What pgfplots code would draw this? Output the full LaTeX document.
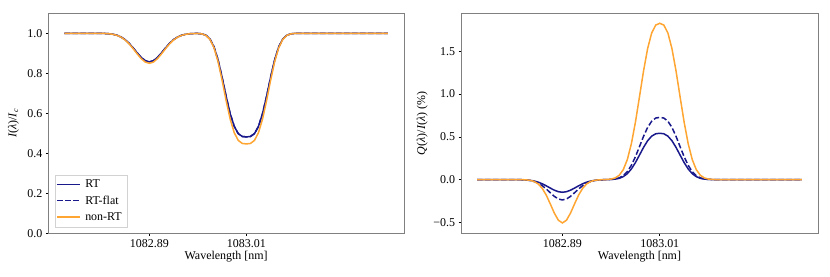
\documentclass[border=0pt]{standalone}
\usepackage{pgfplots}
\usepackage{pgfplotstable}
\pgfplotsset{compat=1.18}
\usepackage{fontspec}
\setmainfont{Liberation Serif}
\definecolor{rtblue}{RGB}{25,25,140}
\definecolor{nrtorange}{RGB}{255,165,50}
\definecolor{framegray}{RGB}{128,128,128}

% x = (lambda - 1082.89 nm) in pm
\pgfplotstableread{
x rt rtflat nrt
-105 1.0 1.0 1.0
-70 0.99996 0.99996 0.99996
-65 0.99988 0.99988 0.99987
-60 0.99965 0.99965 0.99963
-55 0.99909 0.99909 0.99904
-50 0.99780 0.99780 0.99770
-45 0.99515 0.99515 0.99491
-40 0.99013 0.99013 0.98964
-35 0.98153 0.98153 0.98062
-30 0.96821 0.96821 0.96665
-25 0.94967 0.94967 0.94720
-20 0.92670 0.92670 0.92311
-15 0.90180 0.90180 0.89699
-10 0.87901 0.87901 0.87308
-5 0.86285 0.86285 0.85614
0 0.85700 0.85700 0.85000
5 0.86285 0.86285 0.85614
10 0.87901 0.87901 0.87308
15 0.90180 0.90180 0.89699
20 0.92670 0.92670 0.92311
25 0.94967 0.94967 0.94720
30 0.96821 0.96821 0.96665
35 0.98153 0.98153 0.98062
40 0.99013 0.99013 0.98964
45 0.99515 0.99515 0.99491
50 0.99780 0.99780 0.99770
55 0.99900 0.99900 0.99895
60 0.99910 0.99910 0.99904
65 0.99722 0.99722 0.99703
70 0.99014 0.99014 0.98947
75 0.97115 0.97115 0.96920
80 0.93185 0.93185 0.92724
85 0.86688 0.86688 0.85789
90 0.77985 0.77985 0.76497
95 0.68430 0.68430 0.66297
100 0.59800 0.59800 0.57084
105 0.53455 0.53455 0.50310
110 0.49816 0.49816 0.46425
115 0.48405 0.48405 0.44918
120 0.48200 0.48200 0.44700
125 0.48405 0.48405 0.44918
130 0.49816 0.49816 0.46425
135 0.53455 0.53455 0.50310
140 0.59800 0.59800 0.57084
145 0.68430 0.68430 0.66297
150 0.77985 0.77985 0.76497
155 0.86688 0.86688 0.85789
160 0.93185 0.93185 0.92724
165 0.97115 0.97115 0.96920
170 0.99014 0.99014 0.98947
175 0.99734 0.99734 0.99716
180 0.99945 0.99945 0.99941
185 0.99991 0.99991 0.99991
190 0.99999 0.99999 0.99999
295 1.0 1.0 1.0
}\intens

\pgfplotstableread{
x rt rtflat nrt
-105 0 0 0
-70 -0.00002 -0.00001 0
-65 -0.00008 -0.00006 -0.00001
-60 -0.00023 -0.00021 -0.00005
-55 -0.00065 -0.00065 -0.00020
-50 -0.00167 -0.00180 -0.00079
-45 -0.00392 -0.00456 -0.00269
-40 -0.00840 -0.01046 -0.00807
-35 -0.01646 -0.02175 -0.02130
-30 -0.02948 -0.04104 -0.04938
-25 -0.04826 -0.07021 -0.10059
-20 -0.07225 -0.10896 -0.18007
-15 -0.09887 -0.15337 -0.28322
-10 -0.12371 -0.19577 -0.39139
-5 -0.14151 -0.22666 -0.47524
0 -0.14800 -0.23800 -0.50700
5 -0.14151 -0.22666 -0.47524
10 -0.12371 -0.19577 -0.39139
15 -0.09887 -0.15337 -0.28322
20 -0.07225 -0.10896 -0.18007
25 -0.04826 -0.07021 -0.10059
30 -0.02948 -0.04104 -0.04938
35 -0.01646 -0.02175 -0.02130
40 -0.00840 -0.01046 -0.00807
45 -0.00389 -0.00452 -0.00259
50 -0.00154 -0.00162 -0.00034
55 -0.00011 0.00008 0.00162
60 0.00166 0.00233 0.00633
65 0.00564 0.00763 0.01930
70 0.01502 0.02017 0.05064
75 0.03446 0.04628 0.11621
80 0.06958 0.09345 0.23468
85 0.12460 0.16736 0.42024
90 0.19939 0.26782 0.67248
95 0.28753 0.38620 0.96977
100 0.37706 0.50644 1.27176
105 0.45418 0.61004 1.53181
110 0.50832 0.68277 1.71443
115 0.53589 0.71979 1.80738
120 0.54200 0.72800 1.82800
125 0.53589 0.71979 1.80738
130 0.50832 0.68277 1.71443
135 0.45418 0.61004 1.53181
140 0.37706 0.50644 1.27176
145 0.28753 0.38620 0.96977
150 0.19939 0.26782 0.67248
155 0.12460 0.16736 0.42024
160 0.06958 0.09345 0.23468
165 0.03446 0.04628 0.11621
170 0.01502 0.02017 0.05064
175 0.00572 0.00769 0.01930
180 0.00189 0.00254 0.00638
185 0.00054 0.00073 0.00182
190 0.00013 0.00018 0.00045
195 0.00003 0.00004 0.00010
295 0 0 0
}\stokesq

\pgfplotsset{
  panel/.style={
    scale only axis,
    height=220bp,
    anchor=south west,
    axis line style={framegray, line width=0.9bp},
    tick align=outside,
    tick pos=left,
    major tick length=2.5bp,
    every tick/.style={black, line width=0.6bp},
    xmin=-125, xmax=315,
    xtick={0,120},
    xticklabels={1082.89,1083.01},
    xlabel={Wavelength [nm]},
    xlabel style={at={(axis description cs:0.5,-0.108)}, anchor=center, inner sep=0pt},
    ticklabel style={font=\fontsize{12}{14}\selectfont},
    label style={font=\fontsize{12}{14}\selectfont},
    clip=true,
  },
  rtline/.style={color=rtblue, line width=1.5bp},
  rtflatline/.style={color=rtblue, line width=1.5bp, dash pattern=on 5.5bp off 2.5bp},
  nrtline/.style={color=nrtorange, line width=1.5bp},
}

\begin{document}
\begin{tikzpicture}[font=\fontsize{12}{14}\selectfont]
\useasboundingbox (0,0) rectangle (830bp,277bp);

\begin{axis}[panel,
  at={(48.3bp,43.7bp)}, width=355.7bp,
  ymin=0, ymax=1.1,
  ytick={0,0.2,0.4,0.6,0.8,1.0},
  yticklabels={0.0,0.2,0.4,0.6,0.8,1.0},
  ylabel={\textit{I}(\textit{λ})/\textit{I}\textsubscript{\textit{c}}},
  ylabel style={at={(axis description cs:-0.098,0.5)}, anchor=center, inner sep=0pt},
  legend style={at={(axis description cs:0.019,0.029)}, anchor=south west,
    draw=gray!35, fill=white, inner xsep=1bp, inner ysep=1.5bp,
    nodes={inner xsep=4.5bp, inner ysep=3.4bp}, font=\fontsize{12}{14}\selectfont},
  legend cell align=left,
  legend image code/.code={\draw[#1] (0bp,0bp) -- (23bp,0bp);},
]
\addplot[rtline] table[x=x, y=rt] {\intens};
\addlegendentry{RT}
\addplot[rtflatline] table[x=x, y=rtflat] {\intens};
\addlegendentry{RT-flat}
\addplot[nrtline] table[x=x, y=nrt] {\intens};
\addlegendentry{non-RT}
\end{axis}

\begin{axis}[panel,
  at={(461bp,43.7bp)}, width=357bp,
  ymin=-0.628, ymax=1.945,
  ytick={-0.5,0,0.5,1.0,1.5},
  yticklabels={−0.5,0.0,0.5,1.0,1.5},
  ylabel={\textit{Q}(\textit{λ})/\textit{I}(\textit{λ}) (\%)},
  ylabel style={at={(axis description cs:-0.109,0.5)}, anchor=center, inner sep=0pt},
]
\addplot[rtline] table[x=x, y=rt] {\stokesq};
\addplot[rtflatline] table[x=x, y=rtflat] {\stokesq};
\addplot[nrtline] table[x=x, y=nrt] {\stokesq};
\end{axis}
\end{tikzpicture}
\end{document}
